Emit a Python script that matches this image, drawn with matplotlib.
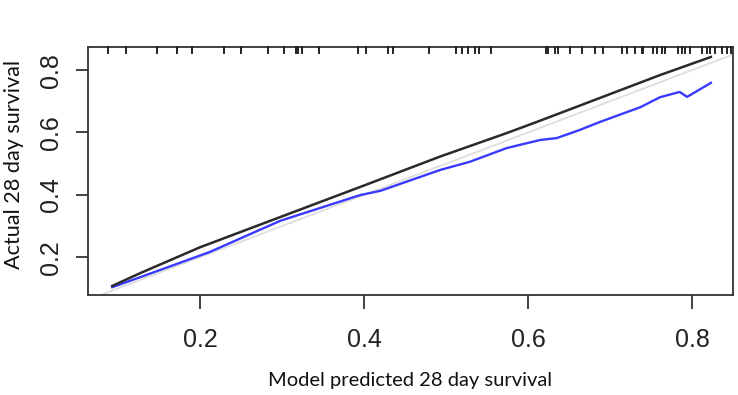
import matplotlib
matplotlib.use('Agg')
import matplotlib.pyplot as plt
import matplotlib.transforms as mtransforms

# Calibration curve values
apparent_x = [0.093, 0.127, 0.200, 0.298, 0.395, 0.420, 0.493, 0.574, 0.615, 0.663,
              0.761, 0.823]
apparent_y = [0.108, 0.149, 0.232, 0.329, 0.425, 0.450, 0.523, 0.598, 0.638, 0.686,
              0.784, 0.842]

corrected_x = [0.093, 0.127, 0.212, 0.298, 0.395, 0.420, 0.493, 0.529, 0.574, 0.615,
               0.635, 0.663, 0.688, 0.737, 0.761, 0.785, 0.794, 0.823]
corrected_y = [0.104, 0.136, 0.217, 0.317, 0.399, 0.413, 0.480, 0.506, 0.550, 0.576,
               0.582, 0.608, 0.634, 0.681, 0.713, 0.730, 0.714, 0.759]

# rug of predicted values along the top
rug_x = [0.0874, 0.1094, 0.1472, 0.1716, 0.1899, 0.2296, 0.2500, 0.2833, 0.3024, 0.3170,
         0.3199, 0.3240, 0.3455, 0.3923, 0.4024, 0.4296, 0.4350, 0.4796, 0.5118, 0.5191,
         0.5272, 0.5354, 0.5402, 0.5545, 0.6216, 0.6248, 0.6329, 0.6370, 0.6512, 0.6655,
         0.6817, 0.6918, 0.7143, 0.7204, 0.7305, 0.7387, 0.7406, 0.7528, 0.7569, 0.7630,
         0.7670, 0.7833, 0.7874, 0.7915, 0.7976, 0.8118, 0.8179, 0.8220, 0.8280, 0.8362,
         0.8423, 0.8480]

x_ticks = [0.2, 0.4, 0.6, 0.8]
y_ticks = [0.2, 0.4, 0.6, 0.8]
tick_labels = ['0.2', '0.4', '0.6', '0.8']

fig = plt.figure(figsize=(7.38, 3.95), dpi=100)
ax = fig.add_axes([88 / 738, 1 - 295 / 395, (733 - 88) / 738, (295 - 47) / 395])

ax.set_xlim(0.0634, 0.85)
ax.set_ylim(0.079, 0.874)

ax.plot([0, 1], [0, 1], color='#dedede', linewidth=1.3, zorder=1)
ax.plot(apparent_x, apparent_y, color='#2a2a2a', linewidth=1.8, zorder=3)
ax.plot(corrected_x, corrected_y, color='#3a3aff', linewidth=1.7, zorder=2)

trans = mtransforms.blended_transform_factory(ax.transData, ax.transAxes)
for rx in rug_x:
    ax.plot([rx, rx], [1.0, 1 - 6 / 248], color='#222222', linewidth=1.4,
            transform=trans, clip_on=False, zorder=4)

for s in ax.spines.values():
    s.set_color('#333333')
    s.set_linewidth(1.3)

ax.set_xticks(x_ticks)
ax.set_xticklabels(tick_labels, fontfamily='Liberation Sans', fontsize=18, color='#222222')
ax.set_yticks(y_ticks)
ax.set_yticklabels(tick_labels, fontfamily='Liberation Sans', fontsize=18, color='#222222',
                   rotation=90, va='center')
ax.tick_params(axis='x', length=10, width=1.3, color='#333333', pad=14)
ax.tick_params(axis='y', length=9, width=1.3, color='#333333', pad=9)

ax.set_xlabel('Model predicted 28 day survival', fontfamily='Lato', fontsize=14.5,
              color='#111111', labelpad=14)
ax.set_ylabel('Actual 28 day survival', fontfamily='Lato', fontsize=15.6,
              color='#111111')
ax.yaxis.set_label_coords(-0.099, 0.528)

fig.savefig('out.png', dpi=100)
